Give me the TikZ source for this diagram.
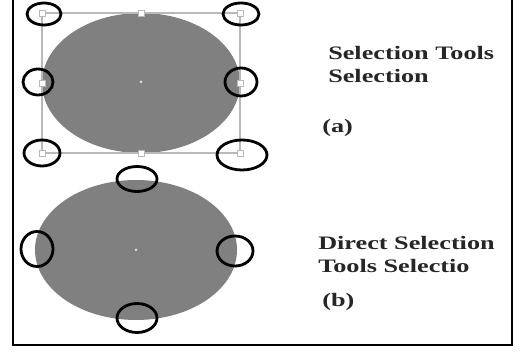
\documentclass[tikz,border=0pt]{standalone}
\usepackage{fontspec}
\setmainfont{Liberation Serif}
\definecolor{shapegray}{RGB}{128,128,128}
\definecolor{boxgray}{RGB}{185,185,185}
\tikzset{
  ring/.style={draw=black, line width=2.8pt},
  grip/.style={draw=boxgray, fill=white, line width=0.8pt, minimum size=6pt, inner sep=0pt},
  caption/.style={font=\fontsize{19}{23}\selectfont\bfseries, text=black!85, align=left,
    inner sep=0pt, anchor=base west, xscale=1.38, transform shape}
}
\begin{document}
\begin{tikzpicture}[x=1pt,y=-1pt]
  \useasboundingbox (0,0) rectangle (520,352);
  \fill[white] (0,0) rectangle (520,352);
  % outer frame, top edge runs off the page
  \draw[line width=1.8pt] (13,-5) -- (13,345) -- (512,345) -- (512,-5);

  % (a) selection tool: shape with its bounding box
  \fill[shapegray] (141,83) ellipse [x radius=99pt, y radius=70pt];
  \fill[white!70!shapegray] (141,82) circle (1.5pt);
  \draw[boxgray, line width=1.2pt] (42,13) rectangle (240,153);
  \node[grip] (tl) at (42,13) {};
  \node[grip] (tm) at (141,13) {};
  \node[grip] (tr) at (240,13) {};
  \node[grip] (ml) at (42,83) {};
  \node[grip] (mr) at (240,83) {};
  \node[grip] (bl) at (42,153) {};
  \node[grip] (bm) at (141,153) {};
  \node[grip] (br) at (240,153) {};
  \draw[ring] (44,14) ellipse [x radius=17pt, y radius=11pt];
  \draw[ring] (241,14) ellipse [x radius=18pt, y radius=11pt];
  \draw[ring] (38,82) ellipse [x radius=15pt, y radius=13pt];
  \draw[ring] (241,82) ellipse [x radius=16pt, y radius=14pt];
  \draw[ring] (42,153) ellipse [x radius=18pt, y radius=13pt];
  \draw[ring] (242,155) ellipse [x radius=25pt, y radius=15pt];

  % (b) direct selection tool: anchor points only
  \fill[shapegray] (136,250) ellipse [x radius=101pt, y radius=70pt];
  \fill[white!70!shapegray] (136,250) circle (1.5pt);
  \draw[ring] (137,179) ellipse [x radius=20pt, y radius=12.5pt];
  \draw[ring] (37,249) ellipse [x radius=16pt, y radius=17.5pt];
  \draw[ring] (235,251) ellipse [x radius=18pt, y radius=15pt];
  \draw[ring] (137,318) ellipse [x radius=20pt, y radius=14.5pt];

  % captions (base sits on the last line)
  \node[caption] (capa) at (328,83) {Selection Tools\\Selection};
  \node[caption] (taga) at (322,133) {(a)};
  \node[caption] (capb) at (318,273) {Direct Selection\\Tools Selectio};
  \node[caption] (tagb) at (322,307) {(b)};
\end{tikzpicture}
\end{document}
